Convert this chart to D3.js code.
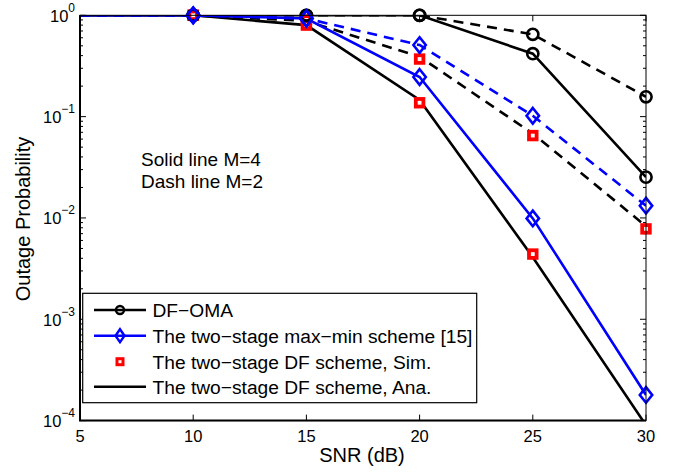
<!DOCTYPE html>
<html>
<head>
<meta charset="utf-8">
<script src="https://d3js.org/d3.v7.min.js"></script>
<style>
  body { margin: 0; background: #fff; }
  text { font-family: "Liberation Sans", Arial, sans-serif; fill: #000; }
</style>
</head>
<body>
<script>
// SNR axis (dB)
var snr = [5, 10, 15, 20, 25, 30];

// outage probability
var omaM4    = [1, 1, 1, 1, 0.418, 0.0253];
var omaM2    = [1, 1, 1, 1, 0.649, 0.157];
var maxminM4 = [1, 1, 0.93, 0.246, 0.0099, 1.79e-4];
var maxminM2 = [1, 1, 0.93, 0.509, 0.102, 0.0132];
var simM4    = [1, 1, 0.80, 0.137, 0.0044, 9e-5];
var simM2    = [1, 1, 0.90, 0.37, 0.065, 0.0078];
var anaM4    = [1, 1, 0.80, 0.146, 0.0041, 9e-5];
var anaM2    = [1, 1, 0.88, 0.39, 0.068, 0.0083];

var xTicks = [5, 10, 15, 20, 25, 30];
var yTicks = [1, 0.1, 0.01, 0.001, 0.0001];
var yExp = ["0", "\u22121", "\u22122", "\u22123", "\u22124"];

var legendLabels = [
  "DF\u2212OMA",
  "The two\u2212stage max\u2212min scheme [15]",
  "The two\u2212stage DF scheme, Sim.",
  "The two\u2212stage DF scheme, Ana."
];

var width = 680, height = 474;
var pL = 80, pR = 646, pT = 15.3, pB = 420.6;

var svg = d3.select("body").append("svg")
  .attr("width", width).attr("height", height);

var x = d3.scaleLinear().domain([5, 30]).range([pL, pR]);
var y = d3.scaleLog().domain([1e-4, 1]).range([pB, pT]);

svg.append("defs").append("clipPath").attr("id", "plotclip")
  .append("rect").attr("x", pL).attr("y", pT)
  .attr("width", pR - pL).attr("height", pB - pT);

// minor log ticks
var minor = [];
for (var e = -4; e < 0; e++) {
  for (var k = 2; k <= 9; k++) minor.push(k * Math.pow(10, e));
}

var axes = svg.append("g");
axes.selectAll(".ymin").data(minor).enter().append("path")
  .attr("d", function(d) {
    var yy = y(d);
    return "M" + pL + "," + yy + "h3M" + pR + "," + yy + "h-3";
  })
  .attr("stroke", "#000").attr("stroke-width", 1);
axes.selectAll(".ymaj").data(yTicks).enter().append("path")
  .attr("d", function(d) {
    var yy = y(d);
    return "M" + pL + "," + yy + "h6M" + pR + "," + yy + "h-6";
  })
  .attr("stroke", "#000").attr("stroke-width", 1);
axes.selectAll(".xmaj").data(xTicks).enter().append("path")
  .attr("d", function(d) {
    var xx = x(d);
    return "M" + xx + "," + pB + "v-6M" + xx + "," + pT + "v6";
  })
  .attr("stroke", "#000").attr("stroke-width", 1);

// curves
var line = d3.line()
  .x(function(d, i) { return x(snr[i]); })
  .y(function(d) { return y(d); });

var plot = svg.append("g").attr("clip-path", "url(#plotclip)");

var curves = [
  {v: anaM2, c: "#000", dash: "10,7"},
  {v: anaM4, c: "#000", dash: null},
  {v: omaM2, c: "#000", dash: "10,7"},
  {v: omaM4, c: "#000", dash: null},
  {v: maxminM2, c: "#0000ff", dash: "10,7"},
  {v: maxminM4, c: "#0000ff", dash: null}
];
curves.forEach(function(s) {
  plot.append("path")
    .attr("d", line(s.v))
    .attr("fill", "none")
    .attr("stroke", s.c)
    .attr("stroke-width", 2.6)
    .attr("stroke-dasharray", s.dash);
});

// markers (first point at x=5 has none)
function markerPts(v) {
  return v.map(function(d, i) { return [snr[i], d]; })
          .filter(function(p) { return p[0] > 5 && p[1] >= 1e-4; });
}

var mk = svg.append("g");
function squares(v) {
  mk.selectAll(null).data(markerPts(v)).enter().append("rect")
    .attr("x", function(p) { return x(p[0]) - 3.8; })
    .attr("y", function(p) { return y(p[1]) - 3.8; })
    .attr("width", 7.6).attr("height", 7.6)
    .attr("fill", "#fff").attr("stroke", "#ff0000").attr("stroke-width", 3.8);
}
function circles(v) {
  mk.selectAll(null).data(markerPts(v)).enter().append("circle")
    .attr("cx", function(p) { return x(p[0]); })
    .attr("cy", function(p) { return y(p[1]); })
    .attr("r", 5.6)
    .attr("fill", "none").attr("stroke", "#000").attr("stroke-width", 2.6);
}
function diamonds(v) {
  mk.selectAll(null).data(markerPts(v)).enter().append("path")
    .attr("d", function(p) {
      var cx = x(p[0]), cy = y(p[1]);
      return "M" + cx + "," + (cy - 7.8) + "L" + (cx + 6.2) + "," + cy +
             "L" + cx + "," + (cy + 7.8) + "L" + (cx - 6.2) + "," + cy + "Z";
    })
    .attr("fill", "none").attr("stroke", "#0000ff").attr("stroke-width", 2.6);
}
squares(simM2);
squares(simM4);
circles(omaM2);
circles(omaM4);
diamonds(maxminM2);
diamonds(maxminM4);

// axes box
svg.append("rect").attr("x", pL).attr("y", pT)
  .attr("width", pR - pL).attr("height", pB - pT)
  .attr("fill", "none").attr("stroke", "#000").attr("stroke-width", 1);
svg.append("path")
  .attr("d", "M" + pL + "," + pT + "V" + pB + "H" + pR)
  .attr("fill", "none").attr("stroke", "#000").attr("stroke-width", 2);

// tick labels
svg.selectAll(".xl").data(xTicks).enter().append("text")
  .attr("x", function(d) { return x(d); })
  .attr("y", 442)
  .attr("text-anchor", "middle")
  .style("font-size", "16.5px")
  .text(function(d) { return d; });

var yl = svg.selectAll(".yl").data(yTicks).enter().append("text")
  .attr("x", 75)
  .attr("y", function(d) { return y(d) + 6.5; })
  .attr("text-anchor", "end")
  .style("font-size", "16.5px");
yl.append("tspan").text("10");
yl.append("tspan").attr("dy", -10).style("font-size", "12px")
  .text(function(d, i) { return yExp[i]; });

// axis labels
svg.append("text").attr("x", 362).attr("y", 462)
  .attr("text-anchor", "middle").style("font-size", "20px")
  .text("SNR (dB)");
svg.append("text")
  .attr("transform", "translate(30,219) rotate(-90)")
  .attr("text-anchor", "middle").style("font-size", "20px")
  .text("Outage Probability");

// annotation
svg.append("text").attr("x", 141).attr("y", 166)
  .style("font-size", "19px").text("Solid line M=4");
svg.append("text").attr("x", 141).attr("y", 188)
  .style("font-size", "19px").text("Dash line M=2");

// legend
var lg = svg.append("g");
lg.append("rect").attr("x", 82.7).attr("y", 293.3)
  .attr("width", 394).attr("height", 109.4)
  .attr("fill", "#fff").attr("stroke", "#000").attr("stroke-width", 1.2);
var rowY = [310, 335.7, 361.7, 386.7];
lg.selectAll(".lt").data(legendLabels).enter().append("text")
  .attr("x", 152.5)
  .attr("y", function(d, i) { return rowY[i] + 7; })
  .style("font-size", "19.2px")
  .text(function(d) { return d; });

lg.append("path").attr("d", "M94," + rowY[0] + "H146")
  .attr("stroke", "#000").attr("stroke-width", 2.6);
lg.append("circle").attr("cx", 120).attr("cy", rowY[0]).attr("r", 4)
  .attr("fill", "none").attr("stroke", "#000").attr("stroke-width", 2.4);
lg.append("path").attr("d", "M94," + rowY[1] + "H146")
  .attr("stroke", "#0000ff").attr("stroke-width", 2.6);
lg.append("path")
  .attr("d", "M120," + (rowY[1] - 6.5) + "L124.5," + rowY[1] + "L120," +
        (rowY[1] + 6.5) + "L115.5," + rowY[1] + "Z")
  .attr("fill", "none").attr("stroke", "#0000ff").attr("stroke-width", 2.4);
lg.append("rect").attr("x", 117).attr("y", rowY[2] - 3)
  .attr("width", 6).attr("height", 6)
  .attr("fill", "#fff").attr("stroke", "#ff0000").attr("stroke-width", 3);
lg.append("path").attr("d", "M94," + rowY[3] + "H146")
  .attr("stroke", "#000").attr("stroke-width", 2.6);
</script>
</body>
</html>
